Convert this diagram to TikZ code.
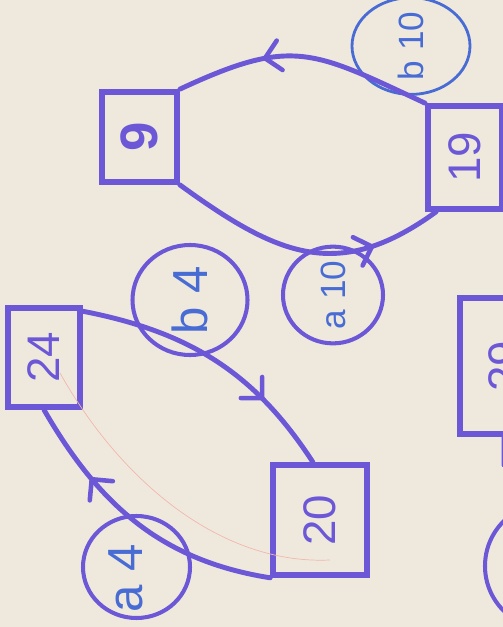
\documentclass[tikz,border=0pt]{standalone}
\usepackage{fontspec}
\setmainfont{Liberation Sans}
\usetikzlibrary{arrows.meta,decorations.markings,shapes.geometric}
\definecolor{paper}{RGB}{239,233,221}
\definecolor{ink}{RGB}{108,88,214}
\definecolor{pen}{RGB}{72,108,212}
\newcommand{\up}[1]{\rotatebox{90}{#1}}
\begin{document}
\begin{tikzpicture}[scale=0.2,
    state/.style={draw=ink, line width=3.2pt, rectangle, inner sep=0pt, text=ink, font=\fontsize{26}{28}\selectfont},
    loopring/.style={draw=ink, line width=2.3pt, ellipse, inner sep=0pt, text=pen},
    trans/.style={draw=ink, line width=2.8pt, line cap=round},
    midarrow/.style={postaction={decorate}, decoration={markings, mark=at position #1 with {\arrow[ink]{Straight Barb[length=0.3cm, width=0.6cm, line width=2.6pt, round]}}}}]
    \useasboundingbox (0,0) rectangle (50.3,-62.7);
    \clip (0,0) rectangle (50.3,-62.7);
    \fill [paper] (0,0) rectangle (50.3,-62.7);
    % states
    \node [state, minimum width=1.5cm, minimum height=1.8cm, font=\bfseries\fontsize{30}{32}\selectfont] (n9) at (13.95,-13.7) {\up{9}};
    \node [state, minimum width=1.48cm, minimum height=2.06cm] (n19) at (46.5,-15.75) {\up{19}};
    \node [state, minimum width=1.44cm, minimum height=1.98cm] (n24) at (4.4,-35.75) {\up{24}};
    \node [state, minimum width=1.88cm, minimum height=2.2cm] (n20) at (32,-52) {\up{20}};
    \node [state, minimum width=1.8cm, minimum height=2.72cm] (n29) at (50.5,-36.6) {\up{29}};
    % labels in rings
    \node [loopring, draw=pen, line width=1.6pt, minimum width=2.36cm, minimum height=1.7cm, font=\fontsize{20}{22}\selectfont] (b10) at (41.1,-4.6) {\up{b 10}};
    \node [loopring, minimum width=2.0cm, minimum height=1.72cm, font=\fontsize{20}{22}\selectfont] (a10) at (33.3,-29.5) {\up{a 10}};
    \node [loopring, minimum width=2.3cm, minimum height=2.2cm, font=\fontsize{28}{30}\selectfont] (b4) at (19,-30) {\up{b 4}};
    \node [loopring, minimum width=2.14cm, minimum height=2.04cm,
        label={[text=pen, font=\fontsize{28}{30}\selectfont, xshift=-0.22cm, yshift=-0.22cm]center:\up{a 4}}] (a4) at (13.65,-56.7) {};
    \node [loopring, minimum width=2.52cm, minimum height=2.52cm] (c29) at (54.8,-56.6) {};
    % transitions
    \draw [trans, midarrow=0.66] (n19.north west) to [out=155, in=25, looseness=1.3] (n9.north east);
    \draw [trans, midarrow=0.75] (n9.south east) to [out=-36, in=-144, looseness=1.2] (n19.-118);
    \draw [trans, midarrow=0.72] (n24.50) to [out=-11, in=123] (n20.97);
    \draw [trans, midarrow=0.72] (n20.south west) to [out=171, in=-60] (n24.south);
    \coordinate (x29) at (50.4,-46.5);
    \draw [trans] ([xshift=-0.08cm]n29.south) -- (x29);
    % faint pencil trace
    \draw [red!22!paper, line width=0.4pt] (6,-37.3) .. controls (12,-48) and (22,-56.5) .. (33,-56);
\end{tikzpicture}
\end{document}
